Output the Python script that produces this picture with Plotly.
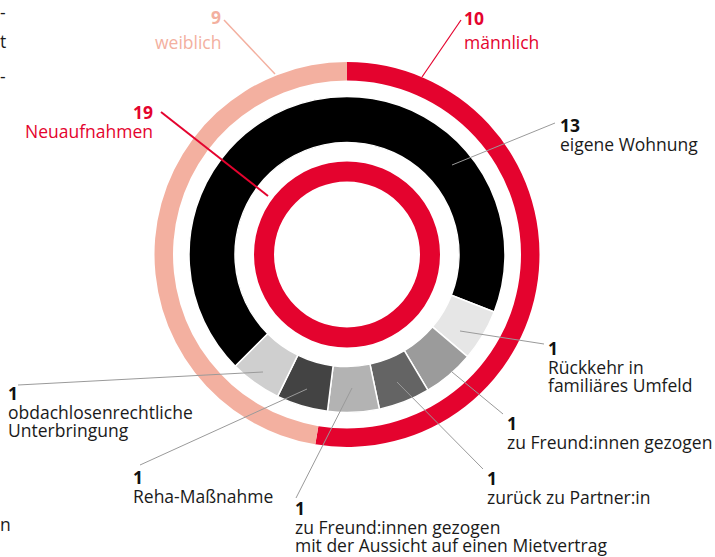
import plotly.graph_objects as go

# ---------------- data ----------------
gender_labels = ["männlich", "weiblich"]
gender_values = [10, 9]

total_labels = ["Neuaufnahmen"]
total_values = [19]

outcome_labels = [
    "eigene Wohnung",
    "Rückkehr in<br>familiäres Umfeld",
    "zu Freund:innen gezogen",
    "zurück zu Partner:in",
    "zu Freund:innen gezogen<br>mit der Aussicht auf einen Mietvertrag",
    "Reha-Maßnahme",
    "obdachlosenrechtliche<br>Unterbringung",
]
outcome_values = [13, 1, 1, 1, 1, 1, 1]

# ---------------- style / layout ----------------
W, H = 715, 557
CX, CY = 347, 254.5
FONT = "Open Sans"
FS = 17.5
RED = "#e4032e"
SALMON = "#f3b0a0"
GRAYS = ["#000000", "#e6e6e6", "#9b9b9b", "#646464", "#b3b3b3", "#434343", "#cfcfcf"]
LINE_GRAY = "#9a9a9a"


def px(x):
    return x / W


def py(y):
    return 1 - y / H


def dom(r):
    return dict(x=[px(CX - r), px(CX + r)], y=[py(CY + r), py(CY - r)])


fig = go.Figure()
fig.add_trace(go.Pie(
    values=gender_values, labels=gender_labels, hole=174 / 192.5, domain=dom(192.5),
    sort=False, direction="clockwise", rotation=0, textinfo="none",
    marker=dict(colors=[RED, SALMON], line=dict(width=0)), showlegend=False,
))
fig.add_trace(go.Pie(
    values=outcome_values, labels=outcome_labels, hole=112 / 158, domain=dom(158),
    sort=False, direction="clockwise", rotation=225, textinfo="none",
    marker=dict(colors=GRAYS, line=dict(color="white", width=1.5)), showlegend=False,
))
fig.add_trace(go.Pie(
    values=total_values, labels=total_labels, hole=73 / 93, domain=dom(93),
    sort=False, direction="clockwise", textinfo="none",
    marker=dict(colors=[RED], line=dict(width=0)), showlegend=False,
))

annotations = []
shapes = []


def text(x, y, s, color="#1a1a1a", bold=False, anchor="left", size=FS):
    annotations.append(dict(
        xref="paper", yref="paper", x=px(x), y=py(y), text=("<b>%s</b>" % s) if bold else s,
        showarrow=False, xanchor=anchor, yanchor="middle", borderpad=0,
        font=dict(family=FONT, size=size, color=color),
    ))


def line(x0, y0, x1, y1, color=LINE_GRAY, width=1):
    shapes.append(dict(type="line", xref="paper", yref="paper",
                       x0=px(x0), y0=py(y0), x1=px(x1), y1=py(y1),
                       line=dict(color=color, width=width), layer="above"))


# outer ring labels
text(222, 17, str(gender_values[1]), SALMON, True, "right")
text(222, 42, gender_labels[1], SALMON, False, "right")
line(224, 20, 275, 74, SALMON, 1.5)

text(463, 18, str(gender_values[0]), RED, True, "left")
text(463, 42, gender_labels[0], RED, False, "left")
line(461, 20, 422, 77, RED, 1.2)

# inner ring label
text(154, 112, str(total_values[0]), RED, True, "right")
text(154, 131, total_labels[0], RED, False, "right")
line(161, 112, 268, 196, RED, 2)

# middle ring labels: (text x, number y, leader start, leader end)
label_pos = [
    (559, 125, (555, 123), (452, 165)),
    (547, 348, (544, 344), (460, 331)),
    (506, 423, (503, 414), (452, 372)),
    (486, 478, (483, 469), (397, 382)),
    (294, 508, (296, 498), (352, 388)),
    (132, 477, (140, 465), (307, 389)),
    (7, 393, (18, 385), (263, 372)),
]
for lab, val, (tx, ny, p0, p1) in zip(outcome_labels, outcome_values, label_pos):
    text(tx, ny, str(val), "#111111", True, "left")
    for i, ln in enumerate(lab.split("<br>")):
        text(tx, ny + 19 + 18 * i, ln, "#1a1a1a", False, "left")
    line(p0[0], p0[1], p1[0], p1[1])

# cut-off text fragments at left edge
for s, y in [("-", 12), ("t", 41), ("-", 76), ("n", 524)]:
    annotations.append(dict(xref="paper", yref="paper", x=px(-1), y=py(y), text=s,
                            showarrow=False, xanchor="left", yanchor="middle", borderpad=0,
                            font=dict(family=FONT, size=FS, color="#1a1a1a")))

fig.update_layout(
    width=W, height=H, margin=dict(l=0, r=0, t=0, b=0),
    paper_bgcolor="white", plot_bgcolor="white",
    annotations=annotations, shapes=shapes, showlegend=False,
)

fig.write_html("out.html", config={"displayModeBar": False},
               post_script="document.body.style.margin='0';")
